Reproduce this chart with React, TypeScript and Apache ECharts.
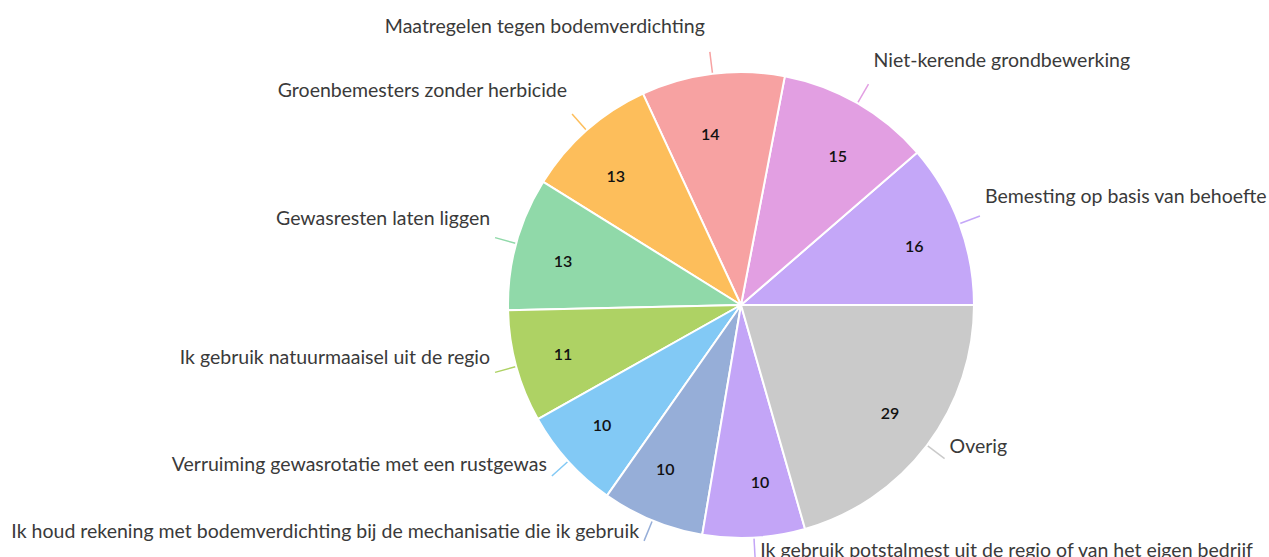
import React, { useEffect, useRef } from "react";
import * as echarts from "echarts";

const categories = [
  "Bemesting op basis van behoefte",
  "Niet-kerende grondbewerking",
  "Maatregelen tegen bodemverdichting",
  "Groenbemesters zonder herbicide",
  "Gewasresten laten liggen",
  "Ik gebruik natuurmaaisel uit de regio",
  "Verruiming gewasrotatie met een rustgewas",
  "Ik houd rekening met bodemverdichting bij de mechanisatie die ik gebruik",
  "Ik gebruik potstalmest uit de regio of van het eigen bedrijf",
  "Overig",
];
const values = [16, 15, 14, 13, 13, 11, 10, 10, 10, 29];
const colors = [
  "#c4a7f8",
  "#e29fe2",
  "#f7a2a2",
  "#fdbe5b",
  "#90d9a9",
  "#aed264",
  "#82c9f5",
  "#96aed8",
  "#c3a5f7",
  "#cacaca",
];

const FONT = "Lato";

export default function App() {
  const ref = useRef<HTMLDivElement>(null);
  useEffect(() => {
    document.body.style.margin = "0";
    const chart = echarts.init(ref.current!, null, { renderer: "svg" });
    const total = values.reduce((a, b) => a + b, 0);
    let cum = 0;
    const offsets: number[] = [];
    const sides: number[] = [];
    const mainData = values.map((v, i) => {
      const mid = ((cum + v / 2) / total) * 2 * Math.PI;
      cum += v;
      offsets.push(18 + 8 * Math.sin(mid));
      sides.push(Math.cos(mid) < 0 ? -1 : 1);
      return {
        name: categories[i],
        value: v,
        itemStyle: { color: colors[i] },
      };
    });
    const innerData = values.map((v, i) => ({ name: categories[i], value: v }));
    chart.setOption({
      animation: false,
      backgroundColor: "#ffffff",
      series: [
        {
          type: "pie",
          center: [741, 305],
          radius: [0, 233],
          startAngle: 0,
          clockwise: false,
          avoidLabelOverlap: false,
          silent: true,
          itemStyle: { borderColor: "#ffffff", borderWidth: 2 },
          label: {
            show: true,
            position: "outside",
            formatter: "{b}",
            fontFamily: FONT,
            fontSize: 19.5,
            color: "#3a3a3a",
            width: 800,
            overflow: "none",
            distanceToLabelLine: 5,
          },
          labelLine: {
            show: true,
            length: 22,
            length2: 0,
            smooth: false,
            lineStyle: { width: 1.5 },
          },
          labelLayout: (p: any) => ({
            dy: -offsets[p.dataIndex],
            labelLinePoints: p.labelLinePoints,
          }),
          data: mainData,
        },
        {
          type: "pie",
          center: [741, 305],
          radius: [111, 233],
          startAngle: 0,
          clockwise: false,
          silent: true,
          z: 5,
          itemStyle: { color: "rgba(0,0,0,0)", borderWidth: 0 },
          label: {
            show: true,
            position: "inside",
            formatter: "{c}",
            fontFamily: FONT,
            fontSize: 16,
            fontWeight: 600,
            color: "#111111",
          },
          labelLine: { show: false },
          labelLayout: (p: any) => ({
            align: sides[p.dataIndex] < 0 ? "right" : "left",
            dy: 2,
          }),
          data: innerData,
        },
      ],
    });
    return () => chart.dispose();
  }, []);
  return (
    <div
      ref={ref}
      style={{ position: "absolute", left: 0, top: 0, width: 1269, height: 557 }}
    />
  );
}
